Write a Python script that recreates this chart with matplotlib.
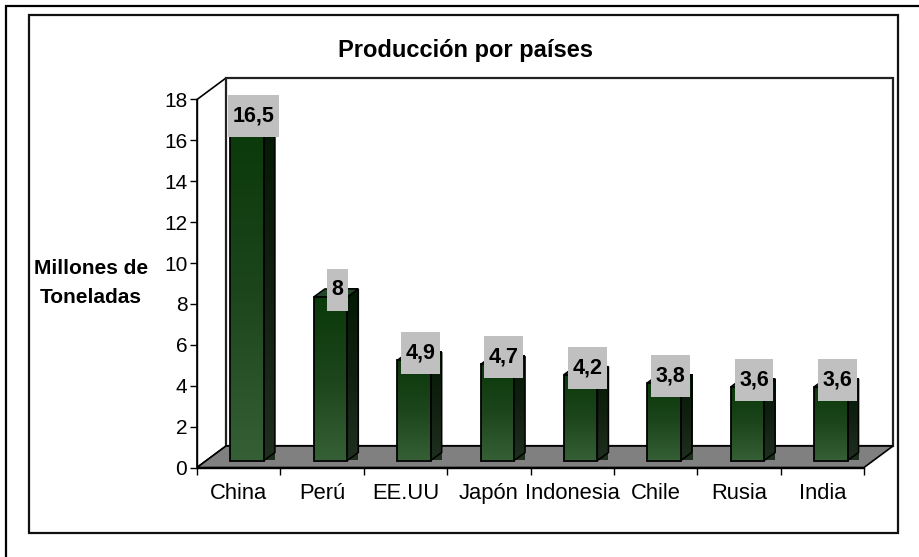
import numpy as np
import matplotlib
matplotlib.use('Agg')
import matplotlib.pyplot as plt
from matplotlib.colors import LinearSegmentedColormap
from matplotlib.patches import Polygon, Rectangle
plt.rc('font', family='Liberation Sans', size=15)

paises = ['China', 'Perú', 'EE.UU', 'Japón', 'Indonesia', 'Chile', 'Rusia', 'India']
valores = [16.5, 8, 4.9, 4.7, 4.2, 3.8, 3.6, 3.6]
etiquetas = ['16,5', '8', '4,9', '4,7', '4,2', '3,8', '3,6', '3,6']
yticks = [0, 2, 4, 6, 8, 10, 12, 14, 16, 18]

W, H = 920, 557
fig = plt.figure(figsize=(W/100, H/100), dpi=100)

# background layer in pixels: page lines, chart frame, title, y label
bg = fig.add_axes([0, 0, 1, 1])
bg.set_xlim(0, W)
bg.set_ylim(H, 0)
bg.axis('off')
bg.plot([6, 6, W], [H, 5.5, 5.5], color='k', lw=1.6, solid_joinstyle='miter')
bg.add_patch(Rectangle((29, 15), 869.5, 517.5, fc='white', ec='#111111', lw=1.6))
bg.text(466, 50, 'Producción por países', ha='center', va='center',
        fontweight='bold', fontsize=17)
bg.text(91, 283, 'Millones de\nToneladas', ha='center', va='center',
        fontweight='bold', fontsize=15, linespacing=1.7)

# chart axes, scale is real: x in categories, y in millions of tons
x0, x1, y0, y18 = 197, 864, 467.5, 99.5
ax = fig.add_axes([x0/W, (H-y0)/H, (x1-x0)/W, (y0-y18)/H])
ax.patch.set_alpha(0)
n = len(paises)
sx = (x1-x0)/n
sy = (y0-y18)/18.

# depth of the fake 3d box and of the bars, pixels to data units
dx_box, dy_box = 29/sx, 21.5/sy
dx_off, dy_off = 8.5/sx, 7/sy
dx_bar, dy_bar = 11/sx, 8/sy
ancho = 33.5/sx

# walls and floor
ax.add_patch(Polygon([(0, 0), (dx_box, dy_box), (dx_box, 18+dy_box), (0, 18)],
                     fc='white', ec='k', lw=1.2, clip_on=False, zorder=1))
ax.add_patch(Polygon([(dx_box, dy_box), (n+dx_box, dy_box), (n+dx_box, 18+dy_box),
                      (dx_box, 18+dy_box)],
                     fc='white', ec='#222222', lw=1.6, clip_on=False, zorder=1))
ax.add_patch(Polygon([(0, 0), (dx_box, dy_box), (n+dx_box, dy_box), (n, 0)],
                     fc='#808080', ec='k', lw=1.2, clip_on=False, zorder=2))

frente = LinearSegmentedColormap.from_list('f', ['#0a390a', '#1c451c', '#355f35'])
lado = LinearSegmentedColormap.from_list('l', ['#021a02', '#122012', '#1f2f1f'])
grad = np.linspace(0, 1, 256).reshape(-1, 1)

renderer = fig.canvas.get_renderer()
for i, (v, lab) in enumerate(zip(valores, etiquetas)):
    z = 3 + i*0.1
    l = i + 0.5 - ancho/2 + dx_off
    r = l + ancho
    b = dy_off
    t = v + dy_off
    # side face
    im = ax.imshow(grad, cmap=lado, aspect='auto', extent=(r, r+dx_bar, b, t+dy_bar),
                   origin='upper', zorder=z, clip_on=False)
    pts = [(r, b), (r+dx_bar, b+dy_bar), (r+dx_bar, t+dy_bar), (r, t)]
    p = Polygon(pts, fc='none', ec='k', lw=1.1, clip_on=False, zorder=z+0.01)
    ax.add_patch(p)
    im.set_clip_path(p)
    # top face
    ax.add_patch(Polygon([(l, t), (l+dx_bar, t+dy_bar), (r+dx_bar, t+dy_bar), (r, t)],
                         fc='#23452a', ec='k', lw=1.1, clip_on=False, zorder=z+0.02))
    # front face
    ax.imshow(grad, cmap=frente, aspect='auto', extent=(l, r, b, t),
              origin='upper', zorder=z+0.03, clip_on=False)
    ax.add_patch(Rectangle((l, b), ancho, v, fc='none', ec='k', lw=1.3,
                           clip_on=False, zorder=z+0.04))

ax.set_xlim(0, n)
ax.set_ylim(0, 18)

# data labels with grey box, placed just over the front top of the bar
for i, (v, lab) in enumerate(zip(valores, etiquetas)):
    cx = i + 0.5 + dx_off + 6.5/sx
    cy = v + dy_off + 7/sy
    txt = ax.text(cx, cy, lab, ha='center', va='center', fontweight='bold',
                  fontsize=15.5, zorder=11, clip_on=False)
    w = txt.get_window_extent(renderer).width + 9
    ax.add_patch(Rectangle((cx - w/2/sx, cy - 21/sy), w/sx, 42/sy, fc='#c0c0c0', ec='none',
                           clip_on=False, zorder=10))

ax.spines['top'].set_visible(False)
ax.spines['right'].set_visible(False)
for s in ('left', 'bottom'):
    ax.spines[s].set_linewidth(1.0)
    ax.spines[s].set_zorder(2.5)
ax.set_yticks(yticks)
ax.set_xticks(np.arange(n+1))
ax.set_xticks(np.arange(n)+0.5, paises, minor=True)
ax.tick_params(axis='x', which='major', length=5, width=1, labelbottom=False)
ax.tick_params(axis='x', which='minor', length=0, pad=11.5, labelsize=15.8)
ax.tick_params(axis='y', length=5, width=1, pad=2)

fig.savefig('out.png', dpi=100)
